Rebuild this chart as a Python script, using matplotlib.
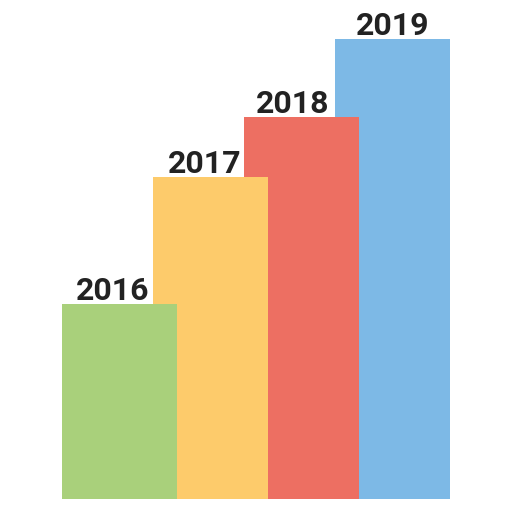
import matplotlib
matplotlib.use("Agg")
import matplotlib.pyplot as plt

years = ["2016", "2017", "2018", "2019"]
values = [195, 322, 382, 460]
colors = ["#A9D07B", "#FDCB6B", "#ED6F62", "#7DB9E6"]
label_shift = [-0.077, -0.066, -0.1, 0.0]

fig = plt.figure(figsize=(5.12, 5.12), dpi=100)
ax = fig.add_axes([0, 13/512, 1, 499/512])
n = len(years)
for i, (y, v, c) in enumerate(zip(years, values, colors)):
    ax.bar(i, v, width=1.264, color=c, zorder=10 - i, linewidth=0)
    ax.text(i + label_shift[i], v + 4, y, ha="center", va="baseline",
            fontsize=23, fontweight="bold", family=["Roboto", "DejaVu Sans"],
            color="#222222", zorder=20)
ax.set_xlim(-119.5/91, (512-119.5)/91)
ax.set_ylim(0, 499)
ax.axis("off")
fig.savefig("out.png", dpi=100)
